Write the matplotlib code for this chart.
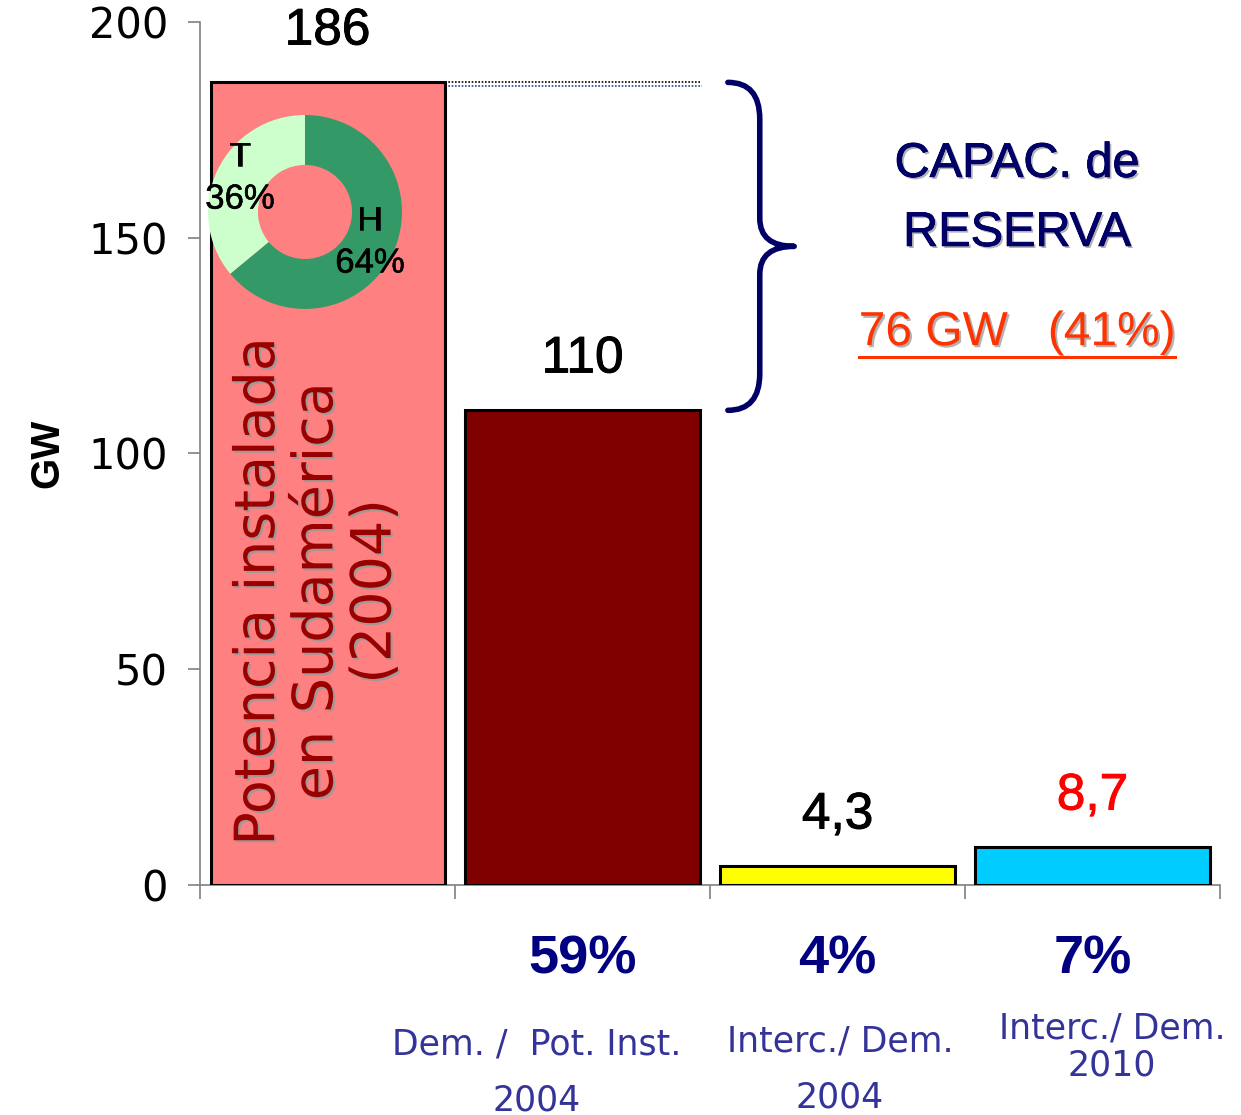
import numpy as np
import matplotlib.pyplot as plt
import matplotlib.patheffects as pe
from matplotlib.path import Path
from matplotlib.patches import PathPatch
from matplotlib.lines import Line2D

# datos del grafico
categorias = ["Pot. Inst. 2004", "Demanda 2004", "Interc. 2004", "Interc. 2010"]
valores = [186, 110, 4.3, 8.7]
etiquetas_valor = ["186", "110", "4,3", "8,7"]
colores_valor = ["black", "black", "black", "red"]
colores_barra = ["#FF8080", "#800000", "#FFFF00", "#00CCFF"]
porcentajes = ["", "59%", "4%", "7%"]
ratio_linea1 = ["", "Dem. /  Pot. Inst.", "Interc./ Dem.", "Interc./ Dem."]
ratio_linea2 = ["", "2004", "2004", "2010"]
pie_valores = [64, 36]
pie_etiquetas = ["H\n64%", "T\n36%"]
pie_colores = ["#339966", "#CCFFCC"]
reserva_gw = 76
reserva_pct = 41

plt.rcParams["font.family"] = ["Liberation Sans", "DejaVu Sans"]

fig = plt.figure(figsize=(12.41, 11.15), dpi=100)
ax = fig.add_axes([0.1612, 0.2063, 0.8219, 0.774])

x = np.arange(len(categorias))
bars = ax.bar(x, valores, width=0.918, color=colores_barra, edgecolor="black", linewidth=2.2, zorder=3)

ax.set_xlim(-0.5, len(categorias) - 0.5)
ax.set_ylim(0, 200)
ax.set_yticks([0, 50, 100, 150, 200])
ax.set_xticks(np.arange(len(categorias) + 1) - 0.5)
ax.set_xticklabels([])
for s in ["top", "right"]:
    ax.spines[s].set_visible(False)
for s in ["left", "bottom"]:
    ax.spines[s].set_color("#808080")
    ax.spines[s].set_linewidth(1.2)
ax.tick_params(axis="y", direction="out", length=9, width=1.2, color="#808080", pad=14)
ax.tick_params(axis="x", direction="out", length=10, width=1.2, color="#808080")
for lab in ax.get_yticklabels():
    lab.set_fontfamily("DejaVu Sans")
    lab.set_fontsize(30)
ax.set_ylabel("GW", fontsize=29, fontweight="bold", labelpad=16)

# valores sobre las barras
for i, b in enumerate(bars):
    ax.annotate(etiquetas_valor[i], (b.get_x() + b.get_width() / 2, b.get_height()),
                xytext=(0, 37), textcoords="offset points", ha="center", va="center",
                fontsize=37, color=colores_valor[i],
                path_effects=[pe.withStroke(linewidth=0.7, foreground=colores_valor[i])])

# porcentajes y relaciones debajo del eje
desp_x = [0, -0.18, 0.01, 0.076]
desp_1 = [0, -115, -113, -103]
desp_2 = [0, -155, -153, -130]
for i in range(len(categorias)):
    if porcentajes[i]:
        ax.annotate(porcentajes[i], (x[i], 0), xycoords=("data", "axes fraction"),
                    xytext=(0, -54), textcoords="offset points", ha="center", va="center",
                    fontsize=39, fontweight="bold", color="#000080")
    if ratio_linea1[i]:
        for txt, dy in [(ratio_linea1[i], desp_1[i]), (ratio_linea2[i], desp_2[i])]:
            ax.annotate(txt, (x[i] + desp_x[i], 0), xycoords=("data", "axes fraction"),
                        xytext=(0, dy), textcoords="offset points", ha="center", va="center",
                        fontsize=25, color="#333399", fontfamily="DejaVu Sans")

# texto vertical en la primera barra
ax.text(x[0] - 0.04, 68, "Potencia instalada\nen Sudamérica\n(2004)", rotation=90,
        ha="center", va="center", multialignment="center", fontsize=40,
        fontfamily="DejaVu Sans", color="#990000", linespacing=1.1, zorder=4,
        path_effects=[pe.withSimplePatchShadow(offset=(1.5, -1.5), shadow_rgbFace="#999999", alpha=0.9)])

# lineas punteadas al nivel de la potencia instalada
x_ini = bars[0].get_x() + bars[0].get_width()
x_fin = bars[1].get_x() + bars[1].get_width()
ax.hlines(valores[0], x_ini, x_fin, colors="black", linestyles=(0, (1, 1)), linewidth=1.2, zorder=2)
ax.hlines(valores[0] - 0.9, x_ini, x_fin + 0.01, colors="#1F4E9A", linestyles=(0, (1, 1)), linewidth=1.2, zorder=2)

# llave de la capacidad de reserva
xl, xm, xr = 1.57, 1.695, 1.83
top, bot = valores[0], valores[1]
mid = (top + bot) / 2
r1, r2 = 8.5, 6.5
verts = [(xl, top), (xm, top), (xm, top - r1), (xm, mid + r2), (xm, mid), (xr, mid),
         (xm, mid), (xm, mid - r2), (xm, bot + r1), (xm, bot), (xl, bot)]
codes = [Path.MOVETO, Path.CURVE3, Path.CURVE3, Path.LINETO, Path.CURVE3, Path.CURVE3,
         Path.CURVE3, Path.CURVE3, Path.LINETO, Path.CURVE3, Path.CURVE3]
ax.add_patch(PathPatch(Path(verts, codes), facecolor="none", edgecolor="#000066",
                       linewidth=4.0, capstyle="round", joinstyle="round", zorder=4))

sombra = [pe.withSimplePatchShadow(offset=(1.5, -1.5), shadow_rgbFace="#aaaaaa", alpha=0.9),
          pe.withStroke(linewidth=0.6, foreground="#000066")]
ax.text(2.704, 167, "CAPAC. de", ha="center", va="center", fontsize=35,
        color="#000066", path_effects=sombra)
ax.text(2.704, 151, "RESERVA", ha="center", va="center", fontsize=35,
        color="#000066", path_effects=sombra)
t_res = ax.text(2.704, 128, f"{reserva_gw} GW   ({reserva_pct}%)", ha="center", va="center",
                fontsize=34.5, color="#FF3300",
                path_effects=[pe.withSimplePatchShadow(offset=(1.5, -1.5), shadow_rgbFace="#aaaaaa", alpha=0.9)])

# subrayado del texto de reserva
fig.canvas.draw()
bb = t_res.get_window_extent().transformed(fig.transFigure.inverted())
fig.add_artist(Line2D([bb.x0, bb.x1], [bb.y0 - 0.002, bb.y0 - 0.002], color="#FF3300", linewidth=2.2))

# grafico de dona dentro de la primera barra
ax_pie = fig.add_axes([0.1676, 0.7229, 0.1563, 0.174])
ax_pie.pie(pie_valores, colors=pie_colores, startangle=90, counterclock=False,
           wedgeprops=dict(width=0.515))
ax_pie.set_xlim(-1, 1)
ax_pie.set_ylim(-1, 1)
ax_pie.set_aspect("equal")
trazo = [pe.withStroke(linewidth=0.4, foreground="black")]
ax_pie.text(0.67, -0.31, pie_etiquetas[0], ha="center", va="center", fontsize=25,
            linespacing=1.35, clip_on=False, path_effects=trazo)
ax_pie.text(-0.67, 0.35, pie_etiquetas[1], ha="center", va="center", fontsize=25,
            linespacing=1.35, clip_on=False, path_effects=trazo)

fig.savefig("out.png", dpi=100)
